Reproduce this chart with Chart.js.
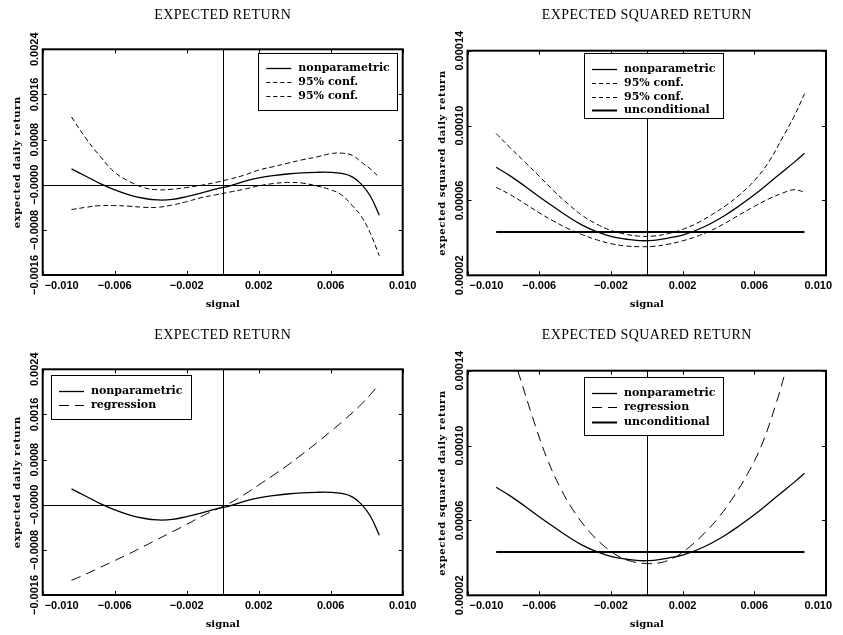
<!DOCTYPE html>
<html>
<head>
<meta charset="utf-8">
<script src="https://cdn.jsdelivr.net/npm/chart.js@4.4.1/dist/chart.umd.min.js"></script>
<style>
  html, body { margin: 0; padding: 0; background: #fff; }
  #wrap { position: relative; width: 843px; height: 635px; }
  #wrap canvas { position: absolute; left: 0; top: 0; }
</style>
</head>
<body>
<div id="wrap">
  <canvas id="retConf" width="843" height="635"></canvas>
  <canvas id="sqConf" width="843" height="635"></canvas>
  <canvas id="retReg" width="843" height="635"></canvas>
  <canvas id="sqReg" width="843" height="635"></canvas>
</div>
<script>
/* =========================================================
   DATA
========================================================= */
const xTicks = [-0.010, -0.006, -0.002, 0.002, 0.006, 0.010];
const xTickLabels = ["\u22120.010", "\u22120.006", "\u22120.002", "0.002", "0.006", "0.010"];

const retTicks = [-0.0016, -0.0008, 0, 0.0008, 0.0016, 0.0024];
const retTickLabels = ["\u22120.0016", "\u22120.0008", "\u22120.0000", "0.0008", "0.0016", "0.0024"];

const sqTicks = [0.00002, 0.00006, 0.00010, 0.00014];
const sqTickLabels = ["0.00002", "0.00006", "0.00010", "0.00014"];

// expected return panels
const retSignal = [-0.0084, -0.0076, -0.0068, -0.0060, -0.0052, -0.0044, -0.0036, -0.0028,
                   -0.0020, -0.0012, -0.0004, 0.0004, 0.0012, 0.0020, 0.0028, 0.0036,
                   0.0044, 0.0052, 0.0060, 0.0066, 0.0072, 0.0077, 0.0082, 0.0087];
const retNonpar = [0.00028, 0.00015, 0.00002, -0.00009, -0.00018, -0.00024, -0.00027, -0.00026,
                   -0.00021, -0.00015, -0.00008, -0.00002, 0.00006, 0.00012, 0.00016, 0.00019,
                   0.00021, 0.00022, 0.00022, 0.00020, 0.00014, 0.00001, -0.00020, -0.00054];
const retUpper  = [0.00120, 0.00082, 0.00050, 0.00022, 0.00006, -0.00005, -0.00009, -0.00008,
                   -0.00005, -0.00001, 0.00004, 0.00010, 0.00017, 0.00026, 0.00032, 0.00038,
                   0.00044, 0.00049, 0.00055, 0.00056, 0.00052, 0.00040, 0.00028, 0.00013];
const retLower  = [-0.00044, -0.00040, -0.00037, -0.00037, -0.00038, -0.00040, -0.00040, -0.00036,
                   -0.00030, -0.00023, -0.00018, -0.00013, -0.00008, -0.00002, 0.00002, 0.00004,
                   0.00003, -0.00002, -0.00009, -0.00018, -0.00037, -0.00056, -0.00086, -0.00126];
const retRegression = [-0.00134, -0.00123, -0.00111, -0.00099, -0.00087, -0.00074, -0.00061, -0.00048,
                       -0.00035, -0.00021, -0.00009, 0.00003, 0.00018, 0.00035, 0.00052, 0.00070,
                       0.00089, 0.00109, 0.00130, 0.00146, 0.00163, 0.00178, 0.00195, 0.00214];

// expected squared return panels
const sqSignal = [-0.0084, -0.0076, -0.0068, -0.0060, -0.0052, -0.0044, -0.0036, -0.0028,
                  -0.0020, -0.0012, -0.0004, 0.0004, 0.0012, 0.0020, 0.0028, 0.0036,
                  0.0044, 0.0052, 0.0060, 0.0068, 0.0076, 0.0082, 0.0088];
const sqNonpar = [0.0000777, 0.0000730, 0.0000676, 0.0000620, 0.0000566, 0.0000514, 0.0000468, 0.0000433,
                  0.0000408, 0.0000394, 0.0000385, 0.0000387, 0.0000399, 0.0000415, 0.0000442, 0.0000478,
                  0.0000522, 0.0000574, 0.0000630, 0.0000692, 0.0000755, 0.0000802, 0.0000852];
const sqUpper  = [0.0000957, 0.0000880, 0.0000805, 0.0000730, 0.0000652, 0.0000582, 0.0000520, 0.0000474,
                  0.0000440, 0.0000420, 0.0000409, 0.0000410, 0.0000423, 0.0000445, 0.0000478, 0.0000522,
                  0.0000572, 0.0000632, 0.0000705, 0.0000805, 0.0000940, 0.0001045, 0.0001170];
const sqLower  = [0.0000670, 0.0000630, 0.0000583, 0.0000534, 0.0000490, 0.0000450, 0.0000417, 0.0000390,
                  0.0000369, 0.0000357, 0.0000353, 0.0000355, 0.0000366, 0.0000384, 0.0000408, 0.0000440,
                  0.0000480, 0.0000525, 0.0000568, 0.0000608, 0.0000640, 0.0000657, 0.0000645];
const sqUncondSignal = [-0.0084, 0.0088];
const sqUncond = [0.0000432, 0.0000432];
const sqRegSignal = [-0.0078, -0.0072, -0.0064, -0.0056, -0.0048, -0.0040, -0.0032, -0.0024, -0.0016,
                     -0.0008, 0.0000, 0.0008, 0.0016, 0.0024, 0.0032, 0.0040, 0.0048, 0.0056,
                     0.0064, 0.0072, 0.0078, 0.0084];
const sqRegression = [0.0001560, 0.0001400, 0.0001160, 0.0000940, 0.0000770, 0.0000640, 0.0000540, 0.0000465,
                      0.0000410, 0.0000380, 0.0000370, 0.0000375, 0.0000405, 0.0000460, 0.0000530, 0.0000615,
                      0.0000720, 0.0000845, 0.0001000, 0.0001220, 0.0001420, 0.0001650];

/* =========================================================
   HELPERS
========================================================= */
const W = 843, H = 635;
const INK = "#000";
const TICK_FONT = "bold 11px 'Liberation Sans', Arial, sans-serif";
const LABEL_FONT = "bold 10px 'DejaVu Serif', serif";
const LEGEND_FONT = "bold 11px 'DejaVu Serif', serif";
const TITLE_FONT = "14px 'Liberation Serif', 'Times New Roman', serif";

function pts(xs, ys) {
  return xs.map((x, i) => ({ x: x, y: ys[i] }));
}

function line(label, xs, ys, width, dash) {
  return {
    label: label,
    data: pts(xs, ys),
    borderColor: INK,
    borderWidth: width,
    borderDash: dash || [],
    pointRadius: 0,
    fill: false,
    tension: 0.4
  };
}

/* =========================================================
   DECORATION PLUGIN (frame, inner ticks, labels, legend)
========================================================= */
const deco = {
  id: "deco",
  beforeDatasetsDraw(chart, args, o) {
    const { ctx, chartArea: a, scales } = chart;
    ctx.save();
    ctx.strokeStyle = INK;
    ctx.lineWidth = 1;
    ctx.beginPath();
    const x0 = Math.round(scales.x.getPixelForValue(0)) + 0.5;
    ctx.moveTo(x0, a.top);
    ctx.lineTo(x0, a.bottom);
    if (o.zeroH) {
      const y0 = Math.round(scales.y.getPixelForValue(0)) + 0.5;
      ctx.moveTo(a.left, y0);
      ctx.lineTo(a.right, y0);
    }
    ctx.stroke();
    ctx.restore();
  },
  afterDatasetsDraw(chart, args, o) {
    const { ctx, chartArea: a, scales } = chart;
    ctx.save();

    // frame
    ctx.strokeStyle = INK;
    ctx.lineWidth = 2;
    ctx.strokeRect(a.left, a.top, a.right - a.left, a.bottom - a.top);

    // inner tick marks on all four sides
    ctx.lineWidth = 1;
    ctx.beginPath();
    xTicks.forEach(v => {
      const px = Math.round(scales.x.getPixelForValue(v)) + 0.5;
      ctx.moveTo(px, a.bottom); ctx.lineTo(px, a.bottom - 4);
      ctx.moveTo(px, a.top); ctx.lineTo(px, a.top + 4);
    });
    o.yTicks.forEach(v => {
      const py = Math.round(scales.y.getPixelForValue(v)) + 0.5;
      ctx.moveTo(a.left, py); ctx.lineTo(a.left + 4, py);
      ctx.moveTo(a.right, py); ctx.lineTo(a.right - 4, py);
    });
    ctx.stroke();

    // x tick labels (first one kept inside the frame)
    ctx.fillStyle = INK;
    ctx.font = TICK_FONT;
    ctx.textBaseline = "middle";
    xTicks.forEach((v, i) => {
      const px = scales.x.getPixelForValue(v);
      const txt = xTickLabels[i];
      const half = ctx.measureText(txt).width / 2;
      let cx = px;
      if (i === 0) cx = a.left + 2 + half;
      if (cx + half > W - 11) cx = W - 11 - half;
      ctx.textAlign = "center";
      ctx.fillText(txt, cx, a.bottom + 10.5);
    });

    // rotated y tick labels
    ctx.textAlign = "center";
    o.yTicks.forEach((v, i) => {
      const py = scales.y.getPixelForValue(v);
      ctx.save();
      ctx.translate(a.left - 8, py);
      ctx.rotate(-Math.PI / 2);
      ctx.fillText(o.yLabels[i], 0, 0);
      ctx.restore();
    });

    // y axis title
    ctx.save();
    ctx.font = LABEL_FONT;
    ctx.letterSpacing = "0.6px";
    ctx.translate(a.left - 25, (a.top + a.bottom) / 2);
    ctx.rotate(-Math.PI / 2);
    ctx.fillText(o.yTitle, 0, 0);
    ctx.restore();

    // panel title
    ctx.save();
    ctx.font = TITLE_FONT;
    ctx.letterSpacing = "0.4px";
    ctx.fillText(o.title, (a.left + a.right) / 2, o.titleY);
    ctx.restore();

    // legend box
    const L = o.legend;
    ctx.fillStyle = "#fff";
    ctx.fillRect(L.x, L.y, L.w, L.h);
    ctx.strokeStyle = INK;
    ctx.lineWidth = 1;
    ctx.strokeRect(Math.round(L.x) + 0.5, Math.round(L.y) + 0.5, Math.round(L.w), Math.round(L.h));
    ctx.font = LEGEND_FONT;
    ctx.textAlign = "left";
    ctx.fillStyle = INK;
    chart.data.datasets.forEach((ds, i) => {
      const ry = Math.round(L.y + L.row0 + i * L.step) + 0.5;
      ctx.save();
      ctx.lineWidth = ds.borderWidth;
      ctx.setLineDash(ds.legendDash || ds.borderDash);
      ctx.beginPath();
      ctx.moveTo(L.x + 8, ry);
      ctx.lineTo(L.x + 33, ry);
      ctx.stroke();
      ctx.restore();
      ctx.fillText(ds.label, L.x + 40, ry);
    });

    ctx.restore();
  }
};

/* =========================================================
   PANEL BUILDER
========================================================= */
function makePanel(id, area, yMin, yMax, datasets, deco_opts) {
  return new Chart(document.getElementById(id), {
    type: "line",
    data: { datasets: datasets },
    options: {
      responsive: false,
      animation: false,
      events: [],
      layout: {
        padding: {
          left: area.left - 10,
          right: W - area.right,
          top: area.top,
          bottom: H - area.bottom - 36
        }
      },
      plugins: {
        legend: { display: false },
        tooltip: { enabled: false },
        deco: deco_opts
      },
      scales: {
        x: {
          type: "linear",
          min: -0.010,
          max: 0.010,
          afterBuildTicks: s => { s.ticks = xTicks.map(v => ({ value: v })); },
          afterFit: s => { s.height = 36; s.paddingLeft = 0; s.paddingRight = 0; },
          ticks: { display: false },
          grid: { display: false, drawTicks: false },
          border: { display: false },
          title: {
            display: true,
            text: "signal",
            color: INK,
            font: { family: "'DejaVu Serif', serif", size: 10, weight: "bold" },
            padding: { top: 0, bottom: 1 }
          }
        },
        y: {
          type: "linear",
          min: yMin,
          max: yMax,
          afterBuildTicks: s => { s.ticks = deco_opts.yTicks.map(v => ({ value: v })); },
          afterFit: s => { s.width = 10; s.paddingTop = 0; s.paddingBottom = 0; },
          ticks: { display: false },
          grid: { display: false, drawTicks: false },
          border: { display: false }
        }
      }
    },
    plugins: [deco]
  });
}

const confDash = [5, 3];
const regDash = [10, 6];

const confUp = line("95% conf.", retSignal, retUpper, 1, confDash);
confUp.legendDash = [4, 3];
const confLo = line("95% conf.", retSignal, retLower, 1, confDash);
confLo.legendDash = [4, 3];

makePanel("retConf",
  { left: 42.7, top: 49.3, right: 402.7, bottom: 275 },
  -0.0016, 0.0024,
  [line("nonparametric", retSignal, retNonpar, 1.3), confUp, confLo],
  { title: "EXPECTED RETURN", titleY: 15, yTitle: "expected daily return",
    yTicks: retTicks, yLabels: retTickLabels, zeroH: true,
    legend: { x: 258.3, y: 52.7, w: 139, h: 57.3, row0: 15.3, step: 14 } });

const sqUp = line("95% conf.", sqSignal, sqUpper, 1, confDash);
sqUp.legendDash = [4, 3];
const sqLo = line("95% conf.", sqSignal, sqLower, 1, confDash);
sqLo.legendDash = [4, 3];

makePanel("sqConf",
  { left: 467.5, top: 50.7, right: 826, bottom: 275.3 },
  0.00002, 0.00014,
  [line("nonparametric", sqSignal, sqNonpar, 1.3), sqUp, sqLo,
   line("unconditional", sqUncondSignal, sqUncond, 2)],
  { title: "EXPECTED SQUARED RETURN", titleY: 15, yTitle: "expected squared daily return",
    yTicks: sqTicks, yLabels: sqTickLabels, zeroH: false,
    legend: { x: 584, y: 53.3, w: 138.7, h: 65, row0: 15.7, step: 13.8 } });

makePanel("retReg",
  { left: 42.7, top: 369.3, right: 402.7, bottom: 595 },
  -0.0016, 0.0024,
  [line("nonparametric", retSignal, retNonpar, 1.3),
   line("regression", retSignal, retRegression, 1, regDash)],
  { title: "EXPECTED RETURN", titleY: 335, yTitle: "expected daily return",
    yTicks: retTicks, yLabels: retTickLabels, zeroH: true,
    legend: { x: 51, y: 375, w: 139.7, h: 44, row0: 16, step: 14 } });

makePanel("sqReg",
  { left: 467.5, top: 370.7, right: 826, bottom: 595.3 },
  0.00002, 0.00014,
  [line("nonparametric", sqSignal, sqNonpar, 1.3),
   line("regression", sqRegSignal, sqRegression, 1, regDash),
   line("unconditional", sqUncondSignal, sqUncond, 2)],
  { title: "EXPECTED SQUARED RETURN", titleY: 335, yTitle: "expected squared daily return",
    yTicks: sqTicks, yLabels: sqTickLabels, zeroH: false,
    legend: { x: 584, y: 377.3, w: 138.7, h: 57.7, row0: 15.4, step: 14.5 } });
</script>
</body>
</html>
